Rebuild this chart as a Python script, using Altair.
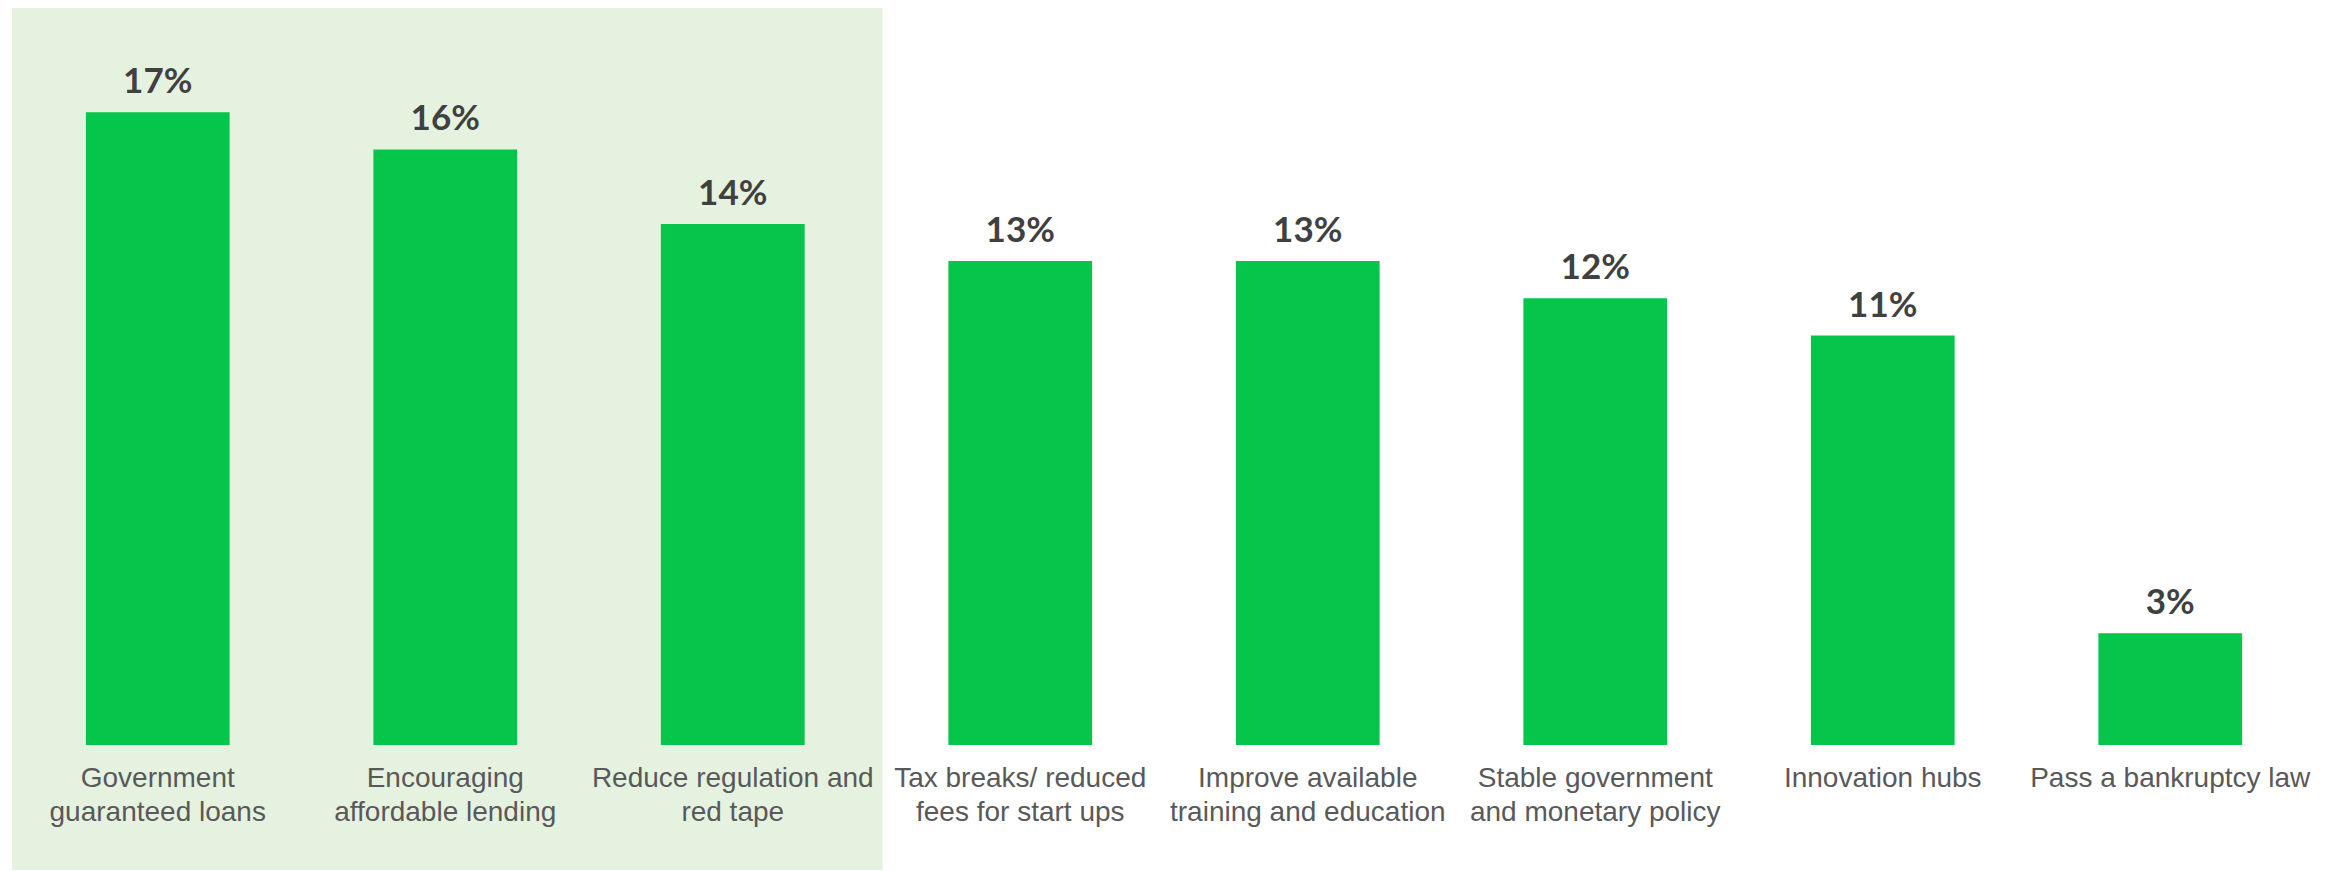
import altair as alt
import pandas as pd

categories = [
    "Government guaranteed loans",
    "Encouraging affordable lending",
    "Reduce regulation and red tape",
    "Tax breaks/ reduced fees for start ups",
    "Improve available training and education",
    "Stable government and monetary policy",
    "Innovation hubs",
    "Pass a bankruptcy law",
]
label_lines = [
    "Government\nguaranteed loans",
    "Encouraging\naffordable lending",
    "Reduce regulation and\nred tape",
    "Tax breaks/ reduced\nfees for start ups",
    "Improve available\ntraining and education",
    "Stable government\nand monetary policy",
    "Innovation hubs",
    "Pass a bankruptcy law",
]
values = [17, 16, 14, 13, 13, 12, 11, 3]
value_labels = ["17%", "16%", "14%", "13%", "13%", "12%", "11%", "3%"]

df = pd.DataFrame({
    "cat": categories,
    "label": label_lines,
    "value": values,
    "vlabel": value_labels,
})

STEP = 287.5
W = int(STEP * len(categories))
H = 737
GREEN = "#05C54B"
SHADE = "#E6F2E0"

x_enc = alt.X("cat:N", sort=categories, axis=None,
              scale=alt.Scale(paddingInner=0.5, paddingOuter=0.25))
y_scale = alt.Scale(domain=[0, 19.8], nice=False)

shade = alt.Chart(alt.Data(values=[{"a": 1}])).mark_rect(color=SHADE).encode(
    x=alt.value(-2), x2=alt.value(3 * STEP + 6),
    y=alt.value(0), y2=alt.value(862),
)

base = alt.Chart(df)

bars = base.mark_bar(color=GREEN).encode(
    x=x_enc,
    y=alt.Y("value:Q", scale=y_scale, axis=None),
)

vals = base.mark_text(
    font="Lato", fontWeight="bold", fontSize=35, color="#404040",
    baseline="alphabetic", align="center", dy=-19,
).encode(
    x=x_enc,
    y=alt.Y("value:Q", scale=y_scale, axis=None),
    text="vlabel:N",
)

cats = base.mark_text(
    font="Liberation Sans", fontSize=28, color="#595959",
    baseline="top", align="center", lineBreak="\n", lineHeight=34, dy=20,
).encode(
    x=x_enc,
    y=alt.datum(0, scale=y_scale),
    text="label:N",
)

chart = alt.layer(shade, bars, vals, cats).properties(
    width=W, height=H,
    padding={"left": 4, "top": 0, "right": 0, "bottom": 0},
    background="white",
).configure_view(stroke=None)

chart.save("out.html", embed_options={"renderer": "svg", "actions": False})
